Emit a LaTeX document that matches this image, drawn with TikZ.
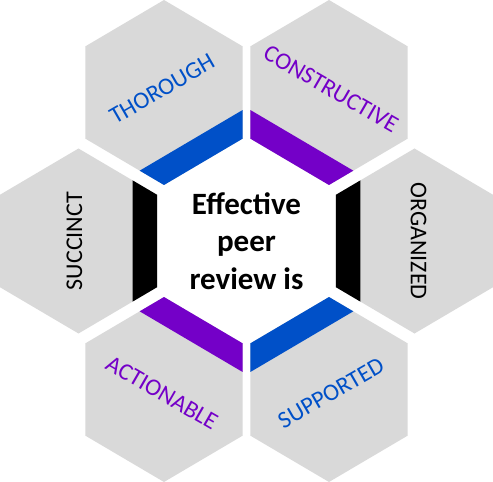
\documentclass[tikz,border=0pt]{standalone}
\usepackage{fontspec}
\setmainfont{Carlito}
\usetikzlibrary{calc}
\definecolor{cellgray}{HTML}{D9D9D9}
\definecolor{barblue}{HTML}{0050C8}
\definecolor{barpurple}{HTML}{7400C8}

\begin{document}
\begin{tikzpicture}[
        x=1pt, y=1pt,
        cell/.style={fill=cellgray},
        word/.style={inner sep=0pt, font=\fontsize{24}{29}\selectfont},
        core/.style={align=center, font=\fontsize{31}{37.5}\selectfont\bfseries}
    ]
        \useasboundingbox (-246.5,-241) rectangle (246.5,241);

        % Outer cells: centre x / centre y / side facing the middle / colour / word / text angle / name
        \foreach \cx/\cy/\f/\col/\txt/\rot/\nm in {
                -82.5/148.5/-60/barblue/THOROUGH/30/thorough,
                82.5/148.5/-120/barpurple/CONSTRUCTIVE/-30/constructive,
                -168/0/0/black/SUCCINCT/90/succinct,
                168/0/180/black/ORGANIZED/-90/organized,
                -82.5/-148.5/60/barpurple/ACTIONABLE/-30/actionable,
                82.5/-148.5/120/barblue/SUPPORTED/30/supported} {
            \begin{scope}[shift={(\cx,\cy)}, xscale=0.98]
                \fill [cell] (30:92.5) -- (90:92.5) -- (150:92.5) -- (210:92.5) -- (270:92.5) -- (330:92.5) -- cycle;
                % bar along the side next to the middle
                \fill [\col] (\f-30:92.5) -- (\f+30:92.5) -- ($(\f+30:92.5)!0.31!(\f+90:92.5)$) -- ($(\f-30:92.5)!0.31!(\f-90:92.5)$) -- cycle;
            \end{scope}
            \node [word, text=\col, rotate=\rot] (\nm) at ($(\cx,\cy)+(\f+180:4)$) {\txt};
        }

        % Middle
        \node [core] (middle) at (0,0) {Effective\\peer\\review is};
\end{tikzpicture}
\end{document}
